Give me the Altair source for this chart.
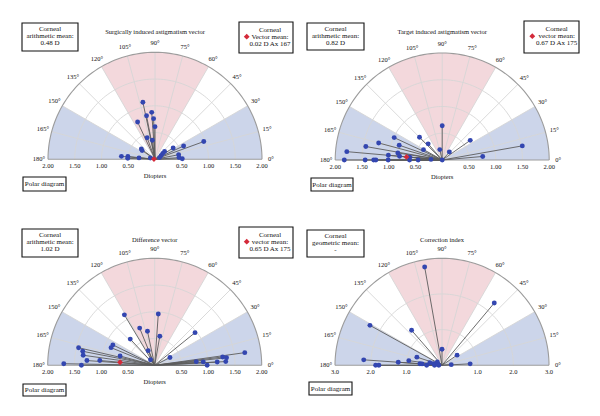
import altair as alt
import numpy as np
import pandas as pd

# ---------------------------------------------------------------
# Per-eye vectors: magnitude and axis (degrees)
# ---------------------------------------------------------------
sia_mag = [1.09, 0.88, 0.83, 0.76, 0.77, 0.61, 0.43, 0.36, 0.97, 0.59, 0.40, 0.32, 0.29,
           0.23, 0.18, 0.13, 0.63, 0.51, 0.51, 0.45, 0.45, 0.51, 0.30, 0.09, 0.09]
sia_axis = [102, 94, 101, 92, 115, 90, 110, 98, 20, 25, 32, 143, 146,
            39, 37, 31, 175, 174, 178, 11, 4, 1, 175, 165, 21]

tia_mag = [0.64, 0.60, 0.99, 0.40, 1.23, 0.85, 1.45, 0.40, 0.64, 1.52, 1.79, 0.20, 0.20,
           0.84, 1.01, 0.80, 0.76, 0.61, 1.83, 1.44, 1.28, 1.24, 1.01, 0.61, 0.45, 0.21, 0.0]
tia_axis = [90, 135, 155, 131, 165, 161, 170, 151, 35, 10, 175, 103, 48,
            171, 175, 175, 5, 175, 180, 180, 180, 180, 180, 180, 180, 177, 90]

dv_mag = [1.10, 0.96, 0.75, 0.65, 0.55, 0.67, 0.97, 0.30, 0.13, 0.87, 0.88, 1.46, 1.37, 1.35,
          0.67, 1.27, 1.03, 1.70, 1.37, 0.32, 1.70, 1.28, 1.35, 1.33, 1.17, 0.91, 0.78, 0.98]
dv_axis = [121, 86, 112, 102, 80, 133, 39, 114, 127, 154, 158, 167, 169, 172,
           165, 176, 175, 179, 180, 27, 8, 7, 6, 3, 3, 4, 5, 0]

ci_mag = [2.80, 2.28, 2.31, 1.30, 0.45, 0.51, 0.79, 0.26, 2.20, 1.23, 0.94, 0.74, 1.86, 1.77,
          0.62, 0.56, 0.43, 0.35, 0.24, 0.16, 0.09, 0.21, 0.12]
ci_axis = [100, 50, 151, 131, 90, 34, 3, 4, 176, 176, 172, 162, 180, 180,
           176, 176, 180, 168, 169, 145, 180, 180, 170]

# Vector means (magnitude D, axis deg)
sia_mean = (0.02, 167)
tia_mean = (0.67, 175)
dv_mean = (0.65, 175)

titles = ["Surgically induced astigmatism vector", "Target induced astigmatism vector",
          "Difference vector", "Correction index"]
left_labels = [["Corneal", "arithmetic mean:", "0.48 D"],
               ["Corneal", "arithmetic mean:", "0.82 D"],
               ["Corneal", "arithmetic mean:", "1.02 D"],
               ["Corneal", "geometric mean:", "-"]]
mean_headings = ["Vector mean:", "vector mean:", "vector mean:"]

diopter_ticks = [-2.0, -1.5, -1.0, -0.5, 0.5, 1.0, 1.5, 2.0]
diopter_tick_labels = ["2.00", "1.50", "1.00", "0.50", "0.50", "1.00", "1.50", "2.00"]
ci_ticks = [-3.0, -2.0, -1.0, 1.0, 2.0, 3.0]
ci_tick_labels = ["3.0", "2.0", "1.0", "1.0", "2.0", "3.0"]
diopter_rings = [0.5, 1.0, 1.5]
ci_rings = [1.0, 2.0]
angle_ticks = list(range(0, 181, 15))
spoke_angles = list(range(15, 180, 15))

# ---------------------------------------------------------------
# Styling / layout
# ---------------------------------------------------------------
W, H = 300, 208
R_PX = 107
SERIF = "Liberation Serif"
PINK = "#f3d8dc"
BLUE = "#ccd5ea"
GRID = "#d6d6d6"
FRAME = "#9c9c9c"
DOT = "#3346b0"
RED = "#d42a3a"
VEC = "#5c5c5c"
FS = 6.5       # titles, tick and angle labels
FS_BOX = 7.0   # annotation boxes
LH = 7.2

layouts = [
    dict(cx=155, cy=159.3, ty=32.3, left=(22, 78, 23, 51), right=(239, 293, 22, 53),
         rtx=270, dmx=246.7, polar=(23, 66, 177, 191)),
    dict(cx=142.2, cy=160, ty=32.3, left=(7, 64, 23, 50), right=(224, 279, 21, 53),
         rtx=256.7, dmx=232.3, polar=(11, 53, 178, 191)),
    dict(cx=154.7, cy=157.3, ty=31.7, left=(22, 78, 21, 49), right=(239, 293, 19, 50),
         rtx=270, dmx=246.7, polar=(23, 66, 176, 188)),
    dict(cx=142, cy=157.3, ty=31.7, left=(7, 64, 22, 49), right=None,
         rtx=None, dmx=None, polar=(9, 52, 174, 187)),
]

ONE = alt.Data(values=[{}])


def box(x0, x1, y0, y1):
    return alt.Chart(ONE).mark_rect(fill="white", stroke="#111", strokeWidth=1.1).encode(
        x=alt.value(x0), x2=alt.value(x1), y=alt.value(y0), y2=alt.value(y1))


def text_at(s, x, y, size=FS):
    return alt.Chart(ONE).mark_text(font=SERIF, fontSize=size, color="#111", align="center",
                                    baseline="middle").encode(
        x=alt.value(x), y=alt.value(y), text=alt.value(s))


def box_lines(lines, x, yc):
    n = len(lines)
    return [text_at(s, x, yc + (k - (n - 1) / 2) * LH, FS_BOX) for k, s in enumerate(lines)]


def panel(i, mag, axis, rmax, rings, ticks, tick_labels, mean=None, diopters=True):
    L = layouts[i]
    cx, cy = L["cx"], L["cy"]
    ppu = R_PX / rmax
    xs = alt.Scale(domain=[-cx / ppu, (W - cx) / ppu], nice=False, zero=False)
    ys = alt.Scale(domain=[-(H - cy) / ppu, cy / ppu], nice=False, zero=False)

    def X(f):
        return alt.X(f"{f}:Q", scale=xs, axis=None)

    def Y(f):
        return alt.Y(f"{f}:Q", scale=ys, axis=None)

    deg = "PI/180"

    # sector shading: 60-120 deg (pink), 0-30 and 150-180 deg (blue)
    frac = np.linspace(-1, 1, 201)
    pink = alt.Chart(pd.DataFrame({"f": frac})).transform_calculate(
        x=f"datum.f*{rmax}*0.5",
        lo=f"abs(datum.f*{rmax}*0.5)*sqrt(3)",
        hi=f"sqrt({rmax*rmax} - pow(datum.f*{rmax}*0.5, 2))",
    ).mark_area(color=PINK, opacity=1).encode(x=X("x"), y=Y("lo"), y2=alt.Y2("hi:Q"))

    g = np.sort(np.unique(np.concatenate([np.linspace(0, 1, 201), [np.cos(np.pi / 6)]])))
    blue_df = pd.DataFrame({"g": np.concatenate([g, g]),
                            "side": [1] * len(g) + [-1] * len(g)})
    blue = alt.Chart(blue_df).transform_calculate(
        x=f"datum.side*datum.g*{rmax}",
        lo="0",
        hi=f"min(datum.g*{rmax}/sqrt(3), sqrt(max(0, {rmax*rmax} - pow(datum.g*{rmax}, 2))))",
    ).mark_area(color=BLUE, opacity=1).encode(
        x=X("x"), y=Y("lo"), y2=alt.Y2("hi:Q"), detail="side:N")

    # concentric rings and outer frame
    t = np.arange(0, 181, 2)
    ring_df = pd.DataFrame([(r, a) for r in rings for a in t], columns=["r", "t"])
    ring_lines = alt.Chart(ring_df).transform_calculate(
        x=f"datum.r*cos(datum.t*{deg})", y=f"datum.r*sin(datum.t*{deg})"
    ).mark_line(color=GRID, strokeWidth=0.9).encode(
        x=X("x"), y=Y("y"), detail="r:N", order="t:Q")

    outer_df = pd.DataFrame({"r": rmax, "t": t})
    outer = alt.Chart(outer_df).transform_calculate(
        x=f"datum.r*cos(datum.t*{deg})", y=f"datum.r*sin(datum.t*{deg})"
    ).mark_line(color=FRAME, strokeWidth=1.1).encode(x=X("x"), y=Y("y"), order="t:Q")

    spokes = alt.Chart(pd.DataFrame({"a": spoke_angles})).transform_calculate(
        x0="0", y0="0",
        x1=f"{rmax}*cos(datum.a*{deg})", y1=f"{rmax}*sin(datum.a*{deg})"
    ).mark_rule(color=GRID, strokeWidth=0.9).encode(
        x=X("x0"), y=Y("y0"), x2=alt.X2("x1:Q"), y2=alt.Y2("y1:Q"))

    base = alt.Chart(pd.DataFrame({"a": [-rmax], "b": [rmax], "z": [0.0]})).mark_rule(
        color=FRAME, strokeWidth=1.1).encode(x=X("a"), x2=alt.X2("b:Q"), y=Y("z"))

    # tick labels along the baseline
    tick_text = alt.Chart(pd.DataFrame({"v": ticks, "lab": tick_labels, "z": 0.0})).mark_text(
        font=SERIF, fontSize=FS, color="#111", baseline="middle", dy=6.6).encode(
        x=X("v"), y=Y("z"), text="lab:N")

    # angle labels around the arc
    lr = (R_PX + 9) / ppu
    ang_text = alt.Chart(pd.DataFrame({"a": angle_ticks})).transform_calculate(
        x=f"{lr}*cos(datum.a*{deg})", y=f"{lr}*sin(datum.a*{deg})",
        lab="datum.a + '°'"
    ).mark_text(font=SERIF, fontSize=FS, color="#111", baseline="middle").encode(
        x=X("x"), y=Y("y"), text="lab:N")

    # individual vectors
    pts = pd.DataFrame({"mag": mag, "axis": axis})
    vec_base = alt.Chart(pts).transform_calculate(
        px=f"datum.mag*cos(datum.axis*{deg})", py=f"datum.mag*sin(datum.axis*{deg})",
        o="0")
    vec_lines = vec_base.mark_rule(color=VEC, strokeWidth=0.9).encode(
        x=X("o"), y=Y("o"), x2=alt.X2("px:Q"), y2=alt.Y2("py:Q"))
    vec_dots = vec_base.mark_circle(color=DOT, opacity=1, size=24).encode(
        x=X("px"), y=Y("py"))

    layers = [pink, blue, ring_lines, spokes, outer, base, tick_text, ang_text,
              vec_lines, vec_dots]

    if mean is not None:
        m_df = pd.DataFrame({"mag": [mean[0]], "axis": [mean[1]]})
        mean_pt = alt.Chart(m_df).transform_calculate(
            px=f"datum.mag*cos(datum.axis*{deg})", py=f"datum.mag*sin(datum.axis*{deg})"
        ).mark_point(shape="diamond", filled=True, color=RED, opacity=1, size=34).encode(
            x=X("px"), y=Y("py"))
        layers.append(mean_pt)

    if diopters:
        layers.append(alt.Chart(pd.DataFrame({"z": [0.0]})).mark_text(
            font=SERIF, fontSize=FS, color="#111", baseline="middle", dy=16.6, text="Diopters"
        ).encode(x=X("z"), y=Y("z")))

    # title
    layers.append(text_at(titles[i], cx, L["ty"]))

    # annotation boxes
    x0, x1, y0, y1 = L["left"]
    layers += [box(x0, x1, y0, y1)] + box_lines(left_labels[i], (x0 + x1) / 2,
                                                 (y0 + y1) / 2 - 0.8)

    if mean is not None:
        x0, x1, y0, y1 = L["right"]
        ym = (y0 + y1) / 2 - 0.8
        lines = ["Corneal", mean_headings[i], f"{mean[0]:.2f} D Ax {mean[1]}"]
        layers += [box(x0, x1, y0, y1)] + box_lines(lines, L["rtx"], ym)
        layers.append(alt.Chart(ONE).mark_point(shape="diamond", filled=True, color=RED,
                                                opacity=1, size=34).encode(
            x=alt.value(L["dmx"]), y=alt.value(ym)))

    x0, x1, y0, y1 = L["polar"]
    layers += [box(x0, x1, y0, y1)] + box_lines(["Polar diagram"], (x0 + x1) / 2,
                                                 (y0 + y1) / 2)

    return alt.layer(*layers).properties(width=W, height=H)


p1 = panel(0, sia_mag, sia_axis, 2.0, diopter_rings, diopter_ticks, diopter_tick_labels, sia_mean)
p2 = panel(1, tia_mag, tia_axis, 2.0, diopter_rings, diopter_ticks, diopter_tick_labels, tia_mean)
p3 = panel(2, dv_mag, dv_axis, 2.0, diopter_rings, diopter_ticks, diopter_tick_labels, dv_mean)
p4 = panel(3, ci_mag, ci_axis, 3.0, ci_rings, ci_ticks, ci_tick_labels, None, diopters=False)

chart = alt.vconcat(
    alt.hconcat(p1, p2, spacing=0),
    alt.hconcat(p3, p4, spacing=0),
    spacing=0,
).properties(padding=0, background="white").configure_view(stroke=None)

chart.save("out.html", embed_options={"renderer": "svg", "actions": False})
